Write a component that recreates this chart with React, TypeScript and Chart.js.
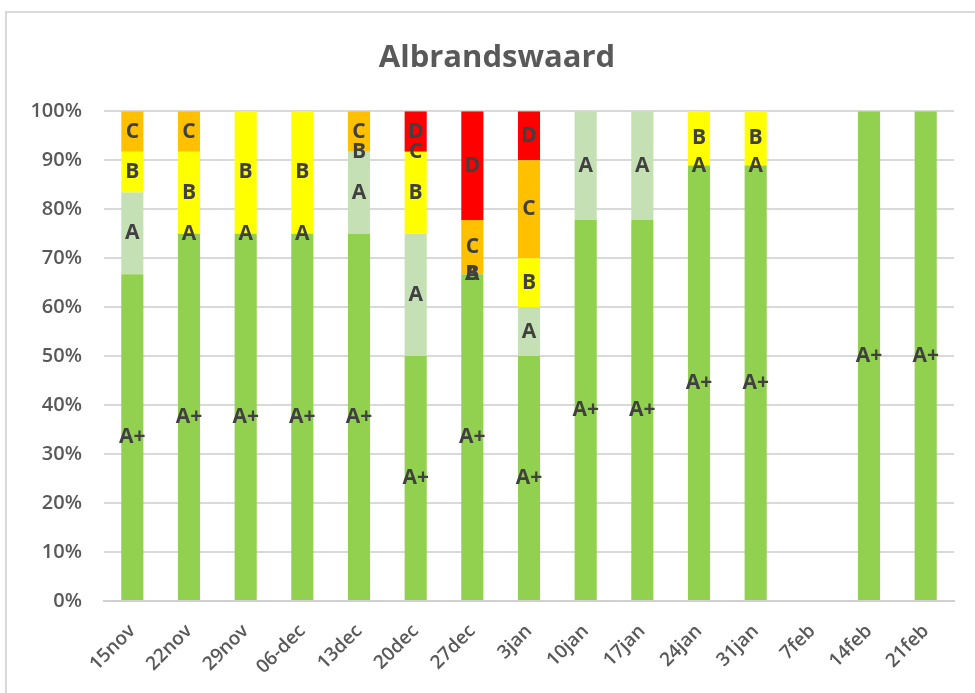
import React, { useEffect, useRef } from "react";
import { Chart, registerables } from "chart.js";

Chart.register(...registerables);

const categories = ["15nov", "22nov", "29nov", "06-dec", "13dec", "20dec", "27dec", "3jan", "10jan", "17jan", "24jan", "31jan", "7feb", "14feb", "21feb"];
const seriesNames = ["A+", "A", "B", "C", "D"];
const aPlus = [66.7, 75, 75, 75, 75, 50, 66.7, 50, 77.8, 77.8, 88.9, 88.9, null, 100, 100];
const aVals = [16.7, 0, 0, 0, 16.7, 25, 0, 10, 22.2, 22.2, 0, 0, null, null, null];
const bVals = [8.3, 16.7, 25, 25, 0, 16.7, 0, 10, null, null, 11.1, 11.1, null, null, null];
const cVals = [8.3, 8.3, null, null, 8.3, 0, 11.1, 20, null, null, null, null, null, null, null];
const dVals = [null, null, null, null, null, 8.3, 22.2, 10, null, null, null, null, null, null, null];
const yTickLabels = ["0%", "10%", "20%", "30%", "40%", "50%", "60%", "70%", "80%", "90%", "100%"];
const colors = ["#92D050", "#C5E0B4", "#FFFF00", "#FFC000", "#FF0000"];

const FONT = "'Open Sans', 'DejaVu Sans', sans-serif";

const frame = {
  id: "frame",
  beforeDraw(chart: any) {
    const ctx = chart.ctx;
    ctx.save();
    ctx.fillStyle = "#ffffff";
    ctx.fillRect(0, 0, chart.width, chart.height);
    ctx.strokeStyle = "#d9d9d9";
    ctx.lineWidth = 2;
    ctx.strokeRect(6, 12, chart.width + 20, chart.height + 20);
    ctx.restore();
  },
};

const titleCenter = {
  id: "titleCenter",
  afterLayout(chart: any) {
    const tb = chart.titleBlock;
    if (tb) {
      tb.left = 19;
      tb.right = chart.width;
    }
  },
};

const segLabels = {
  id: "segLabels",
  afterDatasetsDraw(chart: any) {
    const ctx = chart.ctx;
    ctx.save();
    ctx.font = `bold 21px ${FONT}`;
    ctx.fillStyle = "#404040";
    ctx.textAlign = "center";
    ctx.textBaseline = "middle";
    chart.data.datasets.forEach((ds: any, i: number) => {
      const meta = chart.getDatasetMeta(i);
      meta.data.forEach((el: any, j: number) => {
        const v = ds.data[j];
        if (v === null || v === undefined) return;
        const p = el.getProps(["x", "y", "base"], true);
        ctx.fillText(ds.label, p.x, (p.y + p.base) / 2);
      });
    });
    ctx.restore();
  },
};

export default function App() {
  const ref = useRef<HTMLCanvasElement>(null);
  useEffect(() => {
    if (!ref.current) return;
    const series = [aPlus, aVals, bVals, cVals, dVals];
    const chart = new Chart(ref.current, {
      type: "bar",
      data: {
        labels: categories,
        datasets: series.map((d, i) => ({
          label: seriesNames[i],
          data: d,
          backgroundColor: colors[i],
          borderWidth: 0,
          barPercentage: 1,
          categoryPercentage: 0.39,
        })),
      },
      options: {
        responsive: false,
        animation: false,
        layout: { padding: { left: 0, right: 21, top: 0, bottom: 0 } },
        plugins: {
          legend: { display: false },
          tooltip: { enabled: false },
          title: {
            display: true,
            text: "Albrandswaard",
            color: "#595959",
            font: { size: 31, weight: "bold", family: FONT },
            padding: { top: 40, bottom: 34 },
          },
        },
        scales: {
          x: {
            stacked: true,
            grid: { display: false },
            border: { display: true, color: "#d0d0d0", width: 2 },
            ticks: {
              color: "#595959",
              font: { size: 19, family: FONT, weight: "600" },
              maxRotation: 45,
              minRotation: 45,
              autoSkip: false,
              padding: 11,
            },
            afterFit: (s: any) => { s.height = 92; },
          },
          y: {
            stacked: true,
            min: 0,
            max: 100,
            border: { display: false },
            grid: { color: "#d9d9d9", lineWidth: 2, drawTicks: false },
            ticks: {
              stepSize: 10,
              padding: 22,
              color: "#595959",
              font: { size: 20, family: FONT, weight: "600" },
              callback: (v: any) => yTickLabels[Math.round(Number(v) / 10)],
            },
            afterFit: (s: any) => { s.width = 104; },
          },
        },
      },
      plugins: [frame, titleCenter, segLabels],
    });
    return () => chart.destroy();
  }, []);
  return (
    <div style={{ position: "fixed", left: 0, top: 0, width: 975, height: 693 }}>
      <canvas ref={ref} width={975} height={693} style={{ width: 975, height: 693, display: "block" }} />
    </div>
  );
}
